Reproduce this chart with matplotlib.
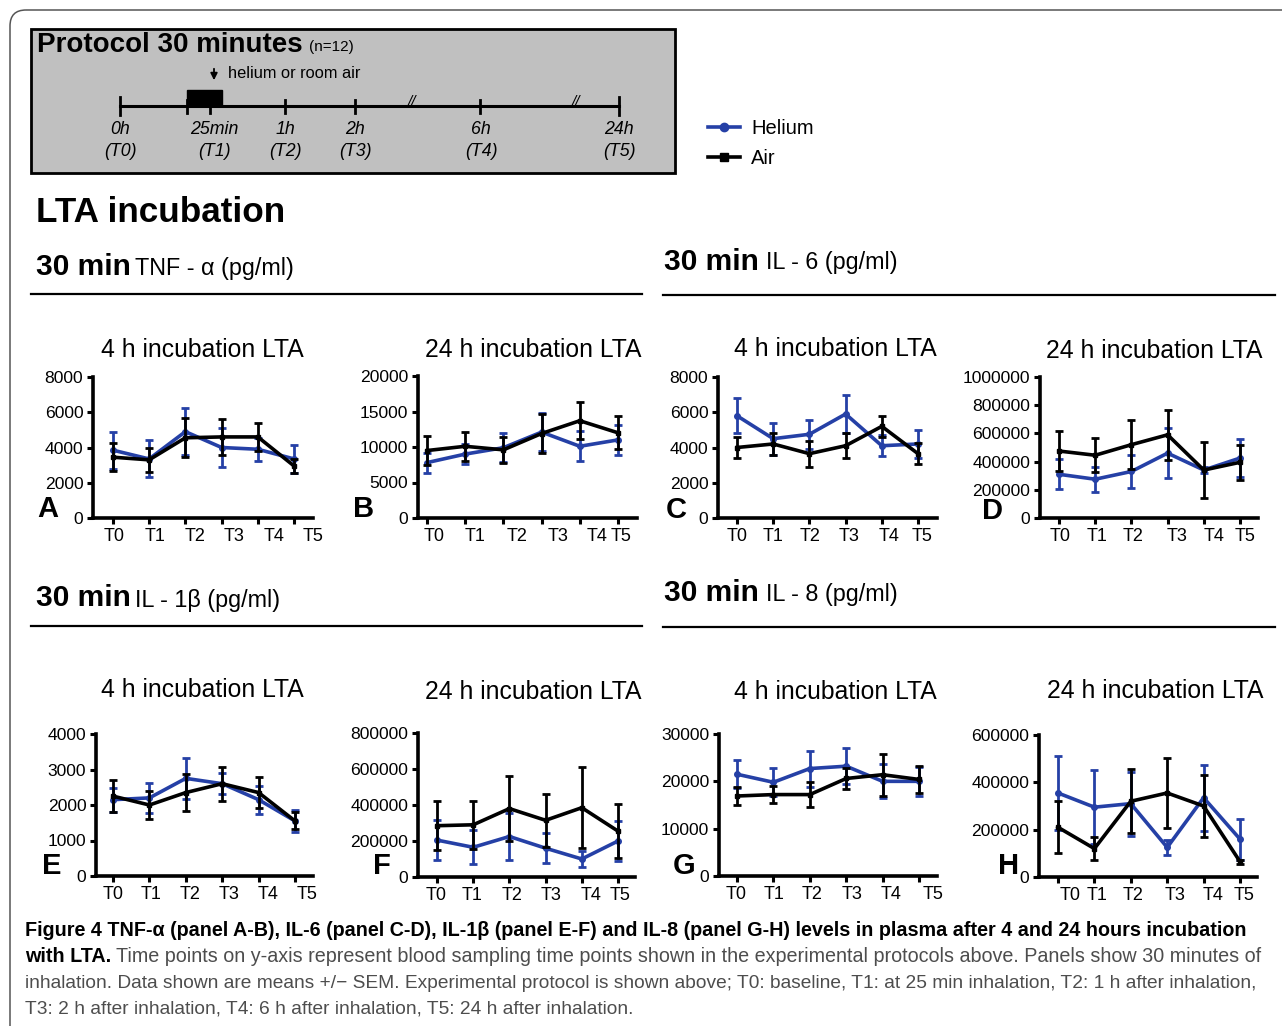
"""Cytokine levels after LTA incubation, helium vs air (30 min protocol)."""

import matplotlib

matplotlib.use("Agg")
import matplotlib.pyplot as plt
from matplotlib.lines import Line2D
from matplotlib.patches import FancyBboxPatch, Rectangle
from matplotlib.ticker import MultipleLocator, NullFormatter

W, H = 1282, 1026
BLUE = "#2540a6"
plt.rcParams["font.family"] = ["Liberation Sans", "DejaVu Sans"]

timepoints = ["T0", "T1", "T2", "T3", "T4", "T5"]

# A: TNF-alpha, 4 h incubation
tnf_4h_helium = [3850, 3350, 4900, 4000, 3900, 3350]
tnf_4h_helium_sem = [1050, 1050, 1350, 1100, 650, 800]
tnf_4h_air = [3450, 3300, 4550, 4600, 4600, 2950]
tnf_4h_air_sem = [800, 700, 1100, 1000, 800, 420]
# B: TNF-alpha, 24 h incubation
tnf_24h_helium = [7800, 9000, 9900, 12100, 10100, 11000]
tnf_24h_helium_sem = [1400, 1450, 2050, 2650, 2100, 2150]
tnf_24h_air = [9500, 10100, 9600, 11900, 13700, 12000]
tnf_24h_air_sem = [2050, 2050, 1800, 2750, 2600, 2350]
# C: IL-6, 4 h incubation
il6_4h_helium = [5800, 4500, 4750, 5900, 4100, 4200]
il6_4h_helium_sem = [1000, 900, 820, 1100, 600, 780]
il6_4h_air = [4000, 4200, 3650, 4100, 5200, 3650]
il6_4h_air_sem = [580, 620, 730, 700, 580, 600]
# D: IL-6, 24 h incubation
il6_24h_helium = [310000, 275000, 330000, 460000, 340000, 425000]
il6_24h_helium_sem = [105000, 90000, 120000, 178000, 20000, 135000]
il6_24h_air = [475000, 445000, 520000, 590000, 340000, 395000]
il6_24h_air_sem = [145000, 120000, 175000, 178000, 198000, 122000]
# E: IL-1beta, 4 h incubation
il1b_4h_helium = [2150, 2200, 2750, 2600, 2150, 1550]
il1b_4h_helium_sem = [340, 420, 570, 300, 390, 300]
il1b_4h_air = [2250, 2000, 2350, 2600, 2350, 1550]
il1b_4h_air_sem = [460, 390, 520, 480, 430, 240]
# F: IL-1beta, 24 h incubation
il1b_24h_helium = [205000, 165000, 225000, 160000, 100000, 200000]
il1b_24h_helium_sem = [110000, 95000, 128000, 83000, 47000, 110000]
il1b_24h_air = [285000, 290000, 380000, 315000, 385000, 255000]
il1b_24h_air_sem = [135000, 133000, 182000, 147000, 225000, 148000]
# G: IL-8, 4 h incubation
il8_4h_helium = [21500, 19800, 22700, 23200, 20000, 20000]
il8_4h_helium_sem = [3000, 3000, 3800, 3800, 3600, 3000]
il8_4h_air = [16900, 17200, 17200, 20600, 21400, 20400]
il8_4h_air_sem = [1900, 1800, 2600, 2300, 4400, 2800]
# H: IL-8, 24 h incubation
il8_24h_helium = [355000, 295000, 310000, 125000, 335000, 160000]
il8_24h_helium_sem = [157000, 157000, 135000, 30000, 140000, 87000]
il8_24h_air = [210000, 120000, 320000, 355000, 300000, 65000]
il8_24h_air_sem = [110000, 50000, 135000, 146000, 130000, 8000]

panels = [
    # letter, helium, helium sem, air, air sem, ymax, ystep,
    # axes box px (l, r, t, b), T0/T5 tick px, label px, title px, letter px
    ("A", tnf_4h_helium, tnf_4h_helium_sem, tnf_4h_air, tnf_4h_air_sem, 8000, 2000,
     (93, 313, 377, 518), (113, 295), [114, 155, 196, 235, 275, 314],
     "4 h incubation LTA", (202, 350), (48, 509)),
    ("B", tnf_24h_helium, tnf_24h_helium_sem, tnf_24h_air, tnf_24h_air_sem, 20000, 5000,
     (418, 637, 376, 518), (427, 618), [434, 475, 517, 558, 597, 621],
     "24 h incubation LTA", (533, 350), (364, 509)),
    ("C", il6_4h_helium, il6_4h_helium_sem, il6_4h_air, il6_4h_air_sem, 8000, 2000,
     (718, 937, 377, 518), (737, 918), [737, 773, 810, 849, 889, 922],
     "4 h incubation LTA", (835, 349), (676, 510)),
    ("D", il6_24h_helium, il6_24h_helium_sem, il6_24h_air, il6_24h_air_sem, 1000000, 200000,
     (1040, 1258, 377, 518), (1059, 1240), [1060, 1097, 1133, 1177, 1214, 1245],
     "24 h incubation LTA", (1154, 351), (993, 511)),
    ("E", il1b_4h_helium, il1b_4h_helium_sem, il1b_4h_air, il1b_4h_air_sem, 4000, 1000,
     (96, 313, 734, 876), (113, 295), [113, 151, 190, 229, 268, 307],
     "4 h incubation LTA", (202, 690), (52, 866)),
    ("F", il1b_24h_helium, il1b_24h_helium_sem, il1b_24h_air, il1b_24h_air_sem, 800000, 200000,
     (418, 635, 733, 877), (437, 618), [436, 472, 512, 551, 591, 620],
     "24 h incubation LTA", (533, 692), (382, 866)),
    ("G", il8_4h_helium, il8_4h_helium_sem, il8_4h_air, il8_4h_air_sem, 30000, 10000,
     (719, 937, 734, 876), (737, 919), [736, 774, 812, 852, 891, 933],
     "4 h incubation LTA", (835, 692), (684, 866)),
    ("H", il8_24h_helium, il8_24h_helium_sem, il8_24h_air, il8_24h_air_sem, 600000, 200000,
     (1039, 1257, 735, 877), (1058, 1240), [1070, 1097, 1133, 1175, 1213, 1244],
     "24 h incubation LTA", (1155, 691), (1009, 866)),
]

fig = plt.figure(figsize=(W / 100, H / 100), dpi=100)
renderer = fig.canvas.get_renderer()

# background axes in pixel coordinates for all the decorations
bg = fig.add_axes([0, 0, 1, 1], zorder=0)
bg.set_xlim(0, W)
bg.set_ylim(H, 0)
bg.axis("off")


def right_edge(txt):
    """x (px) where a text placed on bg ends."""
    bb = txt.get_window_extent(renderer)
    return bb.x1


bg.add_patch(FancyBboxPatch((10, 10), 1400, 1200, boxstyle="round,pad=0,rounding_size=16",
                            facecolor="none", edgecolor="#555555", linewidth=1.1))

# protocol box
bg.add_patch(Rectangle((31, 29), 644, 144, facecolor="#c0c0c0", edgecolor="black", linewidth=2))
ptitle = bg.text(37, 45, "Protocol 30 minutes", fontsize=20, fontweight="bold", va="center")
bg.text(right_edge(ptitle) + 6, 47, "(n=12)", fontsize=11, va="center")
bg.text(228, 74, "helium or room air", fontsize=11.8, va="center")
bg.annotate("", xy=(214, 83), xytext=(214, 66),
            arrowprops=dict(arrowstyle="-|>", color="black", lw=1.3, mutation_scale=10))
bg.plot([120, 619], [106, 106], color="black", lw=2.2)
bg.add_patch(Rectangle((187, 90), 35, 16, facecolor="black", edgecolor="black"))
for x in [120, 619]:
    bg.plot([x, x], [97, 115], color="black", lw=2)
for x in [187, 210, 285, 355, 480]:
    bg.plot([x, x], [100, 113], color="black", lw=2)
for x in [412, 576]:
    bg.text(x, 102, "//", fontsize=11, style="italic", ha="center", va="center")
proto_x = [120, 214, 285, 355, 481, 619]
proto_time = ["0h", "25min", "1h", "2h", "6h", "24h"]
for x, t, tp in zip(proto_x, proto_time, timepoints):
    bg.text(x, 130, t, fontsize=12.8, style="italic", ha="center", va="center")
    bg.text(x, 152, f"({tp})", fontsize=12.8, style="italic", ha="center", va="center")

# headers
bg.text(36, 213, "LTA incubation", fontsize=25.3, fontweight="bold", va="center")
headers = [
    ((36, 267), (135, 268), "TNF - α (pg/ml)", (31, 642, 294)),
    ((664, 262), (766, 263), "IL - 6 (pg/ml)", (663, 1275, 295)),
    ((36, 598), (135, 600), "IL - 1β (pg/ml)", (31, 642, 626)),
    ((664, 593), (766, 595), "IL - 8 (pg/ml)", (663, 1275, 627)),
]
for pos_b, pos_r, label, (x0, x1, yl) in headers:
    bg.text(*pos_b, "30 min", fontsize=21.5, fontweight="bold", va="center")
    bg.text(*pos_r, label, fontsize=16.8, va="center")
    bg.plot([x0, x1], [yl, yl], color="black", lw=1.6)

# panels
for (letter, he, he_sem, air, air_sem, ymax, ystep, box, ticks_px, labels_px,
     title, title_pos, letter_pos) in panels:
    l, r, t, b = box
    ax = fig.add_axes([l / W, 1 - b / H, (r - l) / W, (b - t) / H], zorder=2)
    ax.set_facecolor("none")
    sp = (ticks_px[1] - ticks_px[0]) / 5
    x = list(range(6))
    ax.errorbar(x, he, yerr=he_sem, color=BLUE, lw=2.6, marker="o", ms=4,
                elinewidth=2, capsize=3, capthick=2, clip_on=False, zorder=3)
    ax.errorbar(x, air, yerr=air_sem, color="black", lw=2.6, marker="s", ms=3.5,
                elinewidth=2, capsize=3, capthick=2, clip_on=False, zorder=4)
    ax.set_xlim((l - ticks_px[0]) / sp, 5 + (r - ticks_px[1]) / sp)
    ax.set_ylim(0, ymax)
    ax.yaxis.set_major_locator(MultipleLocator(ystep))
    ax.ticklabel_format(axis="y", style="plain", useOffset=False)
    ax.xaxis.remove_overlapping_locs = False
    ax.set_xticks(x)
    ax.xaxis.set_major_formatter(NullFormatter())
    ax.set_xticks([(p - ticks_px[0]) / sp for p in labels_px], labels=timepoints, minor=True)
    for side in ["top", "right"]:
        ax.spines[side].set_visible(False)
    for side in ["left", "bottom"]:
        ax.spines[side].set_linewidth(2.6)
    ax.tick_params(axis="both", which="major", width=2.2, length=4, labelsize=12.6, pad=3)
    ax.tick_params(axis="x", which="minor", length=0, labelsize=13, pad=7.5)
    bg.text(*title_pos, title, fontsize=17.8, ha="center", va="center")
    bg.text(*letter_pos, letter, fontsize=21, fontweight="bold", ha="center", va="center")

# legend
handles = [
    Line2D([], [], color=BLUE, lw=2.6, marker="o", ms=6),
    Line2D([], [], color="black", lw=2.6, marker="s", ms=6),
]
fig.legend(handles, ["Helium", "Air"], loc="upper left",
           bbox_to_anchor=(708 / W, 1 - 119 / H), frameon=False, fontsize=14.5,
           handlelength=1.6, handletextpad=0.55, labelspacing=0.55, borderpad=0,
           borderaxespad=0)

# caption
cap_font = ["Liberation Sans Narrow", "Liberation Sans", "DejaVu Sans"]


def fit(txt, width_px):
    w = txt.get_window_extent(renderer).width
    txt.set_fontsize(txt.get_fontsize() * width_px / w)


line1 = bg.text(25, 930, "Figure 4 TNF-α (panel A-B), IL-6 (panel C-D), IL-1β (panel E-F) and "
                "IL-8 (panel G-H) levels in plasma after 4 and 24 hours incubation",
                family=cap_font, fontweight="bold", fontsize=12, va="center")
fit(line1, 1213)
line3 = bg.text(25, 983, "inhalation. Data shown are means +/\u2212 SEM. Experimental protocol is "
                "shown above; T0: baseline, T1: at 25 min inhalation, T2: 1 h after inhalation,",
                family=cap_font, fontsize=12, va="center", color="#4d4d4d")
fit(line3, 1237)
fs = line3.get_fontsize()
bold2 = bg.text(25, 957, "with LTA.", family=cap_font, fontweight="bold",
                fontsize=line1.get_fontsize(), va="center")
line2 = bg.text(right_edge(bold2) + 5, 957, "Time points on y-axis represent blood sampling "
                "time points shown in the experimental protocols above. Panels show 30 minutes of",
                family=cap_font, fontsize=fs, va="center", color="#4d4d4d")
fit(line2, 1253 - right_edge(bold2) - 5)
bg.text(25, 1009, "T3: 2 h after inhalation, T4: 6 h after inhalation, T5: 24 h after inhalation.",
        family=cap_font, fontsize=fs, va="center", color="#4d4d4d")

fig.savefig("out.png", dpi=100)
plt.close(fig)
